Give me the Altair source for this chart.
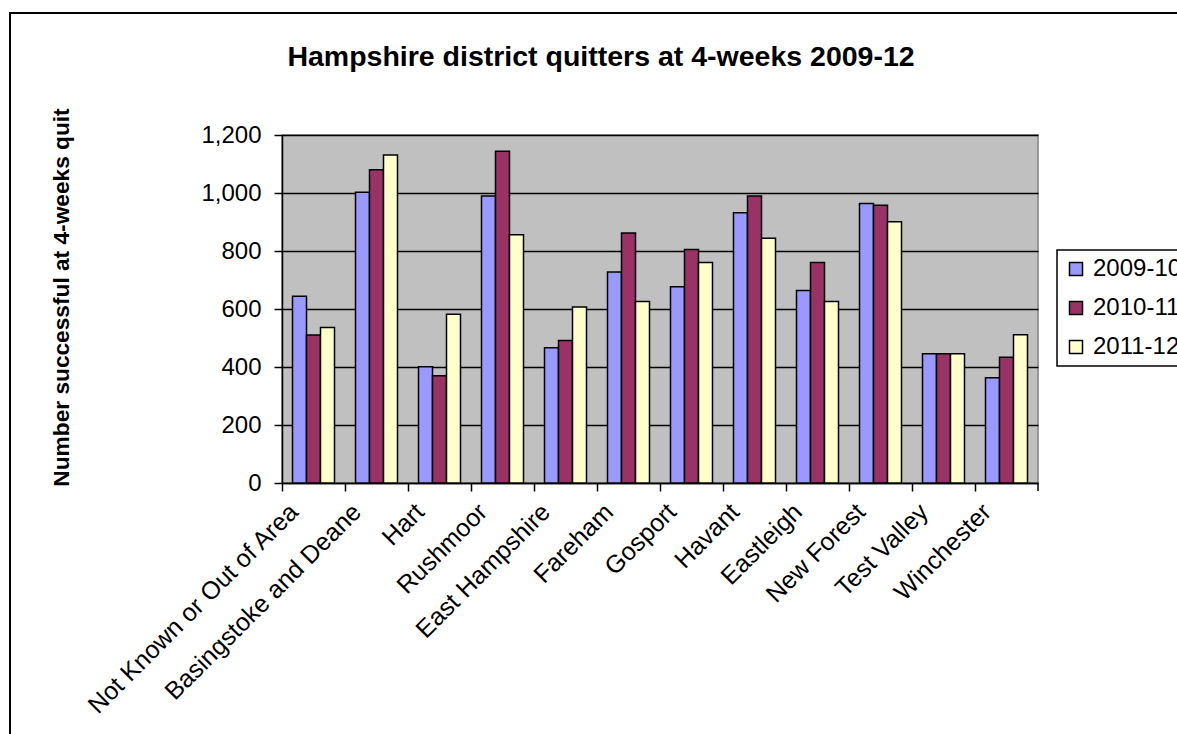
import altair as alt
import pandas as pd

FONT = "Liberation Sans"

districts = ["Not Known or Out of Area", "Basingstoke and Deane", "Hart", "Rushmoor",
             "East Hampshire", "Fareham", "Gosport", "Havant", "Eastleigh",
             "New Forest", "Test Valley", "Winchester"]
years = ["2009-10", "2010-11", "2011-12"]
v_2009_10 = [644, 1003, 401, 990, 466, 728, 677, 932, 664, 964, 446, 363]
v_2010_11 = [510, 1080, 370, 1144, 491, 862, 805, 990, 760, 958, 446, 434]
v_2011_12 = [536, 1131, 582, 856, 607, 626, 760, 844, 626, 901, 446, 511]
colors = ["#9999FF", "#993366", "#FFFFCC"]
y_ticks = [0, 200, 400, 600, 800, 1000, 1200]

title_text = "Hampshire district quitters at 4-weeks 2009-12"
y_title = "Number successful at 4-weeks quit"

rows = []
for yr, vals in zip(years, [v_2009_10, v_2010_11, v_2011_12]):
    for d, v in zip(districts, vals):
        rows.append({"district": d, "year": yr, "value": v})
df = pd.DataFrame(rows)

W, H = 756, 348
one = pd.DataFrame({"k": [0]})

frame = alt.Chart(one).mark_rect(fill="transparent", stroke="black", strokeWidth=2).encode(
    x=alt.value(-272), x2=alt.value(1100), y=alt.value(-122), y2=alt.value(800)
)

title = alt.Chart(one).mark_text(
    font=FONT, fontSize=28.5, fontWeight="bold", align="center", baseline="alphabetic", color="black"
).encode(x=alt.value(319), y=alt.value(-69), text=alt.value(title_text))

bars = alt.Chart(df).mark_bar(stroke="black", strokeWidth=1.5).encode(
    x=alt.X("district:N", sort=districts,
            scale=alt.Scale(paddingInner=0, paddingOuter=0),
            axis=alt.Axis(title=None, labelAngle=-45, labelAlign="right", labelBaseline="top",
                          bandPosition=0, labelOffset=-28, labelPadding=8, tickSize=8,
                          labelFontSize=25, labelFont=FONT, labelColor="black",
                          domainColor="black", domainWidth=1.5, tickColor="black",
                          tickWidth=1.5, grid=False, labelLimit=500)),
    xOffset=alt.XOffset("year:N", sort=years,
                        scale=alt.Scale(paddingInner=0, paddingOuter=0.75)),
    y=alt.Y("value:Q", scale=alt.Scale(domain=[0, 1200], nice=False),
            axis=alt.Axis(values=y_ticks, format=",d", title=y_title,
                          titleFont=FONT, titleFontSize=22.7, titleFontWeight="bold",
                          titleColor="black", titleAngle=-90, titleX=-214, titleY=162,
                          titleAlign="center", titleBaseline="alphabetic",
                          labelFontSize=24, labelFont=FONT, labelColor="black",
                          labelPadding=13, tickSize=8, tickColor="black", tickWidth=1.5,
                          domainColor="black", domainWidth=1.5,
                          grid=True, gridColor="black", gridWidth=1.5)),
    color=alt.Color("year:N", sort=years, scale=alt.Scale(domain=years, range=colors),
                    legend=alt.Legend(title=None, orient="none", legendX=775, legendY=115,
                                      strokeColor="black", fillColor="white",
                                      padding=7, symbolType="square", symbolSize=169,
                                      symbolStrokeColor="black", symbolStrokeWidth=1.5,
                                      symbolOpacity=1,
                                      labelFont=FONT, labelFontSize=24, labelColor="black",
                                      labelOffset=5, rowPadding=15)),
)

last_tick = alt.Chart(one).mark_rule(color="black", strokeWidth=1.5).encode(
    x=alt.value(W), y=alt.value(H), y2=alt.value(H + 8)
)

chart = alt.layer(frame, title, bars, last_tick).properties(
    width=W, height=H,
    autosize=alt.AutoSizeParams(type="none"),
    padding={"left": 282, "top": 135, "right": 139, "bottom": 251},
    background="white",
).configure_view(fill="#C0C0C0", stroke="#808080", strokeWidth=1.5
).configure_legend(strokeWidth=1.5)

chart.save("out.html", embed_options={"renderer": "svg", "actions": False})
